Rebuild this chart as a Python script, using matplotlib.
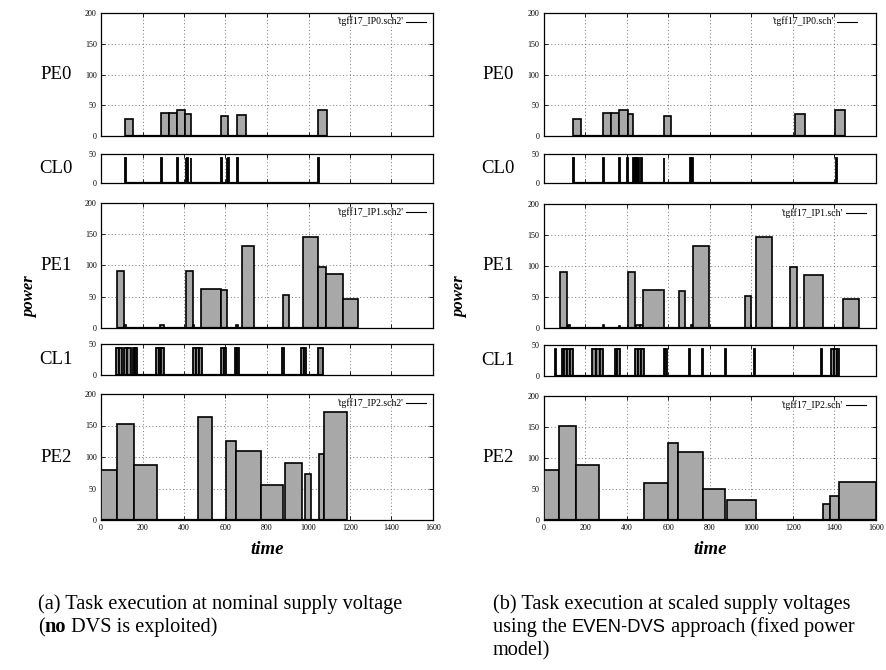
import matplotlib
matplotlib.use("Agg")
import matplotlib.pyplot as plt

plt.rcParams['font.family'] = ['Liberation Serif', 'DejaVu Serif']

# ---- data: (start, end, power) ----
# (a) nominal supply voltage
pe0_a = [(117, 154, 28), (289, 328, 38), (328, 366, 38), (366, 406, 43),
         (406, 432, 35), (580, 614, 32), (654, 697, 34), (1047, 1091, 43)]
cl0_a = [(117, 121, 43), (289, 293, 43), (365, 369, 43), (408, 412, 43),
         (414, 418, 43), (432, 436, 43), (580, 584, 43), (605, 609, 43),
         (612, 617, 43), (654, 658, 43), (1047, 1051, 43)]
pe1_a = [(79, 112, 91), (112, 120, 5), (284, 304, 5), (408, 442, 91),
         (442, 450, 5), (480, 580, 62), (580, 606, 60), (650, 658, 5),
         (678, 737, 131), (879, 908, 52), (975, 1047, 146), (1047, 1083, 98),
         (1083, 1168, 86), (1168, 1240, 47)]
cl1_a = [(72, 86, 43), (86, 100, 43), (111, 127, 43), (127, 143, 43),
         (153, 165, 43), (165, 175, 43), (265, 278, 43), (278, 291, 43),
         (291, 304, 43), (442, 456, 43), (456, 470, 43), (470, 485, 43),
         (580, 592, 43), (592, 603, 43), (644, 655, 43), (655, 665, 43),
         (871, 884, 43), (966, 977, 43), (977, 987, 43), (1044, 1069, 43)]
pe2_a = [(0, 76, 80), (76, 159, 152), (159, 271, 88), (469, 537, 163),
         (603, 649, 125), (649, 773, 110), (773, 879, 55), (887, 970, 90),
         (983, 1012, 73), (1051, 1075, 104), (1075, 1184, 172)]

# (b) EVEN-DVS scaled supply voltages
pe0_b = [(141, 179, 28), (288, 325, 38), (325, 362, 38), (362, 407, 43),
         (407, 433, 35), (579, 615, 33), (1211, 1256, 35), (1405, 1450, 43)]
cl0_b = [(141, 145, 43), (288, 292, 43), (362, 366, 43), (404, 408, 43),
         (433, 437, 43), (440, 444, 43), (447, 451, 43), (455, 459, 43),
         (471, 475, 43), (578, 582, 43), (706, 712, 43), (713, 719, 43),
         (1408, 1412, 43)]
pe1_b = [(80, 112, 91), (118, 128, 5), (284, 292, 5), (362, 368, 3),
         (409, 440, 91), (447, 462, 5), (462, 477, 5), (478, 579, 62),
         (653, 682, 60), (709, 717, 5), (717, 796, 132), (968, 1000, 52),
         (1024, 1101, 147), (1185, 1220, 98), (1252, 1344, 86),
         (1442, 1516, 47)]
cl1_b = [(56, 60, 43), (88, 100, 43), (100, 114, 43), (114, 127, 43),
         (127, 140, 43), (234, 252, 43), (252, 270, 43), (270, 288, 43),
         (346, 356, 43), (356, 366, 43), (438, 453, 43), (453, 468, 43),
         (468, 484, 43), (578, 586, 43), (586, 594, 43), (701, 705, 43),
         (764, 768, 43), (873, 877, 43), (1014, 1018, 43), (1336, 1340, 43),
         (1384, 1397, 43), (1397, 1410, 43), (1410, 1423, 43)]
pe2_b = [(0, 76, 80), (76, 157, 152), (157, 269, 88), (486, 599, 59),
         (599, 647, 125), (647, 767, 110), (767, 875, 50), (883, 1023, 32),
         (1346, 1381, 26), (1381, 1421, 38), (1421, 1600, 62)]

row_names = ['PE0', 'CL0', 'PE1', 'CL1', 'PE2']
legends_a = ["'tgff17_IP0.sch2'", "'tgff17_IP1.sch2'", "'tgff17_IP2.sch2'"]
legends_b = ["'tgff17_IP0.sch'", "'tgff17_IP1.sch'", "'tgff17_IP2.sch'"]
xticks = [0, 200, 400, 600, 800, 1000, 1200, 1400, 1600]
pe_yticks = [0, 50, 100, 150, 200]
cl_yticks = [0, 50]

W, H = 886, 670
fig = plt.figure(figsize=(W / 100, H / 100), dpi=100)


def box(l, t, r, b):
    return [l / W, 1 - b / H, (r - l) / W, (b - t) / H]


def draw_row(ax, tasks, kind, legend=None, leg_x=0.91, last=False):
    ax.set_xlim(0, 1600)
    if kind == 'PE':
        ax.set_ylim(0, 200)
        ax.set_yticks(pe_yticks)
    else:
        ax.set_ylim(0, 50)
        ax.set_yticks(cl_yticks)
    ax.set_xticks(xticks)
    ax.grid(True, color='#777777', linestyle=(0, (1, 2.5)), linewidth=0.7)
    ax.set_axisbelow(True)
    starts = [s for s, e, h in tasks]
    widths = [e - s for s, e, h in tasks]
    heights = [h for s, e, h in tasks]
    if kind == 'PE':
        ax.bar(starts, heights, width=widths, align='edge', color='#a8a8a8',
               edgecolor='black', linewidth=1.2, zorder=3)
    else:
        ax.bar(starts, heights, width=widths, align='edge', color='#8c8c8c',
               edgecolor='black', linewidth=1.3, zorder=3)
    ax.hlines(0, min(starts), max(s + w for s, w in zip(starts, widths)),
              color='black', linewidth=1.6, zorder=4)
    ax.tick_params(direction='in', length=3, width=0.6, labelsize=5.8,
                   top=True, right=True, pad=3)
    if not last:
        ax.tick_params(labelbottom=False)
    for sp in ax.spines.values():
        sp.set_linewidth(0.9)
    if legend:
        ax.text(leg_x, 0.93, legend, transform=ax.transAxes, ha='right',
                va='center', fontsize=7)
        ax.plot([leg_x + 0.01, leg_x + 0.07], [0.93, 0.93],
                transform=ax.transAxes, color='black', linewidth=0.8)


panels = [
    (101, 433, [(13, 136), (154, 183), (203, 328), (344, 375), (394, 520)],
     [pe0_a, cl0_a, pe1_a, cl1_a, pe2_a], legends_a, [0.91, 0.91, 0.91],
     56, 30),
    (543.5, 876, [(13, 136), (154, 183), (204, 328), (345, 376), (396, 520)],
     [pe0_b, cl0_b, pe1_b, cl1_b, pe2_b], legends_b, [0.872, 0.9, 0.9],
     498, 460),
]

for l, r, rows, data, legends, leg_xs, lab_x, pow_x in panels:
    li = 0
    for i, ((t, b), tasks, name) in enumerate(zip(rows, data, row_names)):
        ax = fig.add_axes(box(l, t, r, b))
        kind = name[:2]
        leg, lx = None, 0.91
        if kind == 'PE':
            leg, lx = legends[li], leg_xs[li]
            li += 1
        draw_row(ax, tasks, kind, leg, lx, last=(i == 4))
        fig.text(lab_x / W, 1 - (t + b) / 2 / H, name, ha='center',
                 va='center', fontsize=13.5)
    fig.text(pow_x / W, 1 - 297 / H, 'power', rotation=90, ha='center',
             va='center', fontsize=12, fontstyle='italic', fontweight='bold')
    fig.text((l + r) / 2 / W, 1 - 550 / H, 'time', ha='center', va='center',
             fontsize=13.5, fontstyle='italic', fontweight='bold')


# captions: pieces placed one after another on a line
cap = 14.6


def text_line(x, y, pieces):
    renderer = fig.canvas.get_renderer()
    px = x
    for s, kw in pieces:
        t = fig.text(px / W, 1 - y / H, s, ha='left', va='baseline',
                     fontsize=kw.pop('size', cap), **kw)
        px += t.get_window_extent(renderer).width


text_line(38, 609, [('(a) Task execution at nominal supply voltage', {})])
text_line(38, 632, [('(', {}), ('no', {'fontweight': 'bold'}),
                    (' DVS is exploited)', {})])
text_line(493, 609, [('(b) Task execution at scaled supply voltages', {})])
text_line(493, 632, [('using the ', {}),
                     ('EVEN-DVS', {'family': 'Liberation Sans', 'size': 13.2}),
                     (' approach (fixed power', {})])
text_line(493, 655, [('model)', {})])

fig.savefig('out.png', dpi=100)
